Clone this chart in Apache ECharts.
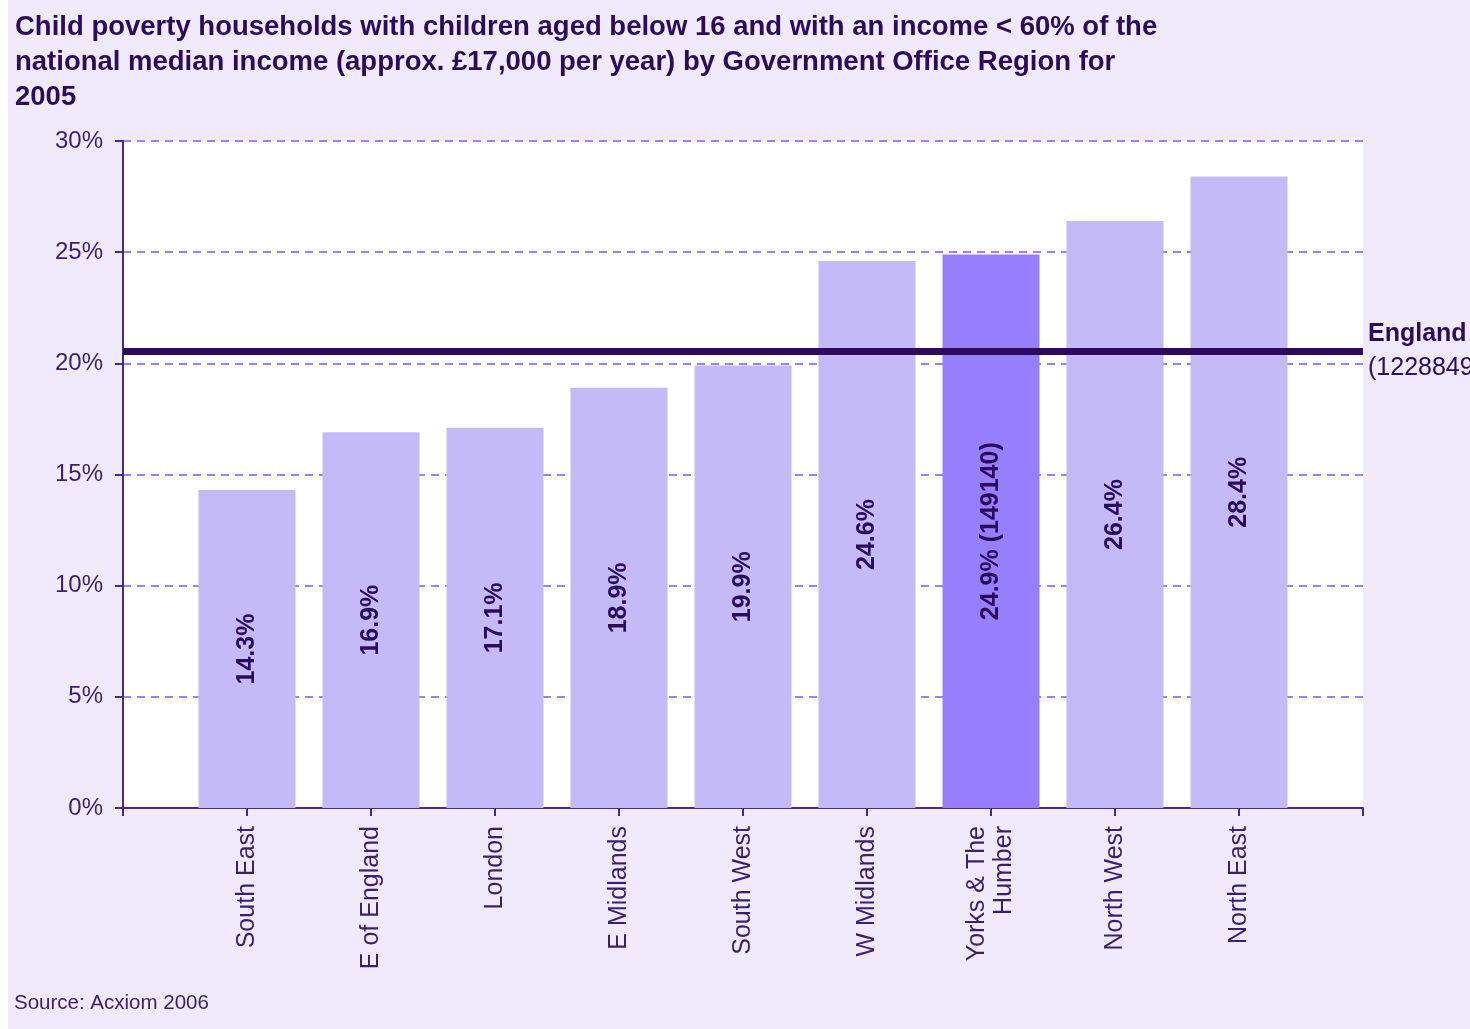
<!DOCTYPE html>
<html>
<head>
<meta charset="utf-8">
<script src="https://cdn.jsdelivr.net/npm/echarts@6/dist/echarts.min.js"></script>
<style>
  html, body { margin: 0; padding: 0; background: #fff; }
  #chart { position: absolute; left: 8px; top: 0; width: 1462px; height: 1029px; }
</style>
</head>
<body>
<div id="chart"></div>
<script>
// blank slots at each end so bars sit on points like the original axis
const regions = ['', 'South East', 'E of England', 'London', 'E Midlands', 'South West',
  'W Midlands', 'Yorks & The\nHumber', 'North West', 'North East', '']
const poverty = ['-', 14.3, 16.9, 17.1, 18.9, 19.9, 24.6, 24.9, 26.4, 28.4, '-']
const barLabels = ['', '14.3%', '16.9%', '17.1%', '18.9%', '19.9%', '24.6%', '24.9% (149140)', '26.4%', '28.4%', '']
const highlight = 'Yorks & The\nHumber'
const englandValue = 20.55
const englandName = 'England'
const englandCount = '(1228849)'
const yTicks = [0, 5, 10, 15, 20, 25, 30]

const textColor = '#2b0b5c'
const font = 'Liberation Sans, Arial, sans-serif'

const chart = echarts.init(document.getElementById('chart'))

const option = {
  backgroundColor: '#f1eafd',
  animation: false,
  textStyle: { fontFamily: font },
  title: [{
    text: 'Child poverty households with children aged below 16 and with an income < 60% of the\nnational median income (approx. £17,000 per year) by Government Office Region for\n2005',
    left: 2,
    top: 5,
    textStyle: { color: textColor, fontSize: 27.5, fontWeight: 'bold', lineHeight: 35, fontFamily: font }
  }, {
    text: 'Source: Acxiom 2006',
    left: 1,
    top: 988,
    textStyle: { color: '#3a1f6b', fontSize: 20.5, fontWeight: 'normal', fontFamily: font }
  }],
  grid: {
    left: 115,
    right: 107,
    top: 141,
    bottom: 221,
    show: true,
    backgroundColor: '#ffffff',
    borderWidth: 0
  },
  xAxis: {
    type: 'category',
    boundaryGap: false,
    data: regions,
    axisLine: { lineStyle: { color: '#4b2a82', width: 2 } },
    axisTick: { show: true, length: 8, interval: 0, lineStyle: { color: '#4b2a82', width: 2 } },
    axisLabel: {
      interval: 0,
      rotate: 90,
      margin: 18,
      color: '#3a1f6b',
      fontSize: 25,
      lineHeight: 27,
      fontFamily: font
    },
    splitLine: { show: false }
  },
  yAxis: {
    type: 'value',
    min: yTicks[0],
    max: yTicks[yTicks.length - 1],
    interval: 5,
    axisLine: { show: true, lineStyle: { color: '#4b2a82', width: 2 } },
    axisTick: { show: true, length: 8, lineStyle: { color: '#4b2a82', width: 2 } },
    axisLabel: {
      margin: 20,
      color: '#3a1f6b',
      fontSize: 24,
      fontFamily: font,
      formatter: v => v + '%'
    },
    splitLine: { show: true, lineStyle: { color: '#9985f8', type: [8, 6], width: 2 } }
  },
  series: [{
    type: 'bar',
    barWidth: 97,
    data: poverty.map((v, i) => ({
      value: v,
      itemStyle: { color: regions[i] === highlight ? '#957fff' : '#c5baf8' }
    })),
    label: {
      show: true,
      position: 'inside',
      rotate: 90,
      color: textColor,
      fontSize: 25,
      fontWeight: 'bold',
      fontFamily: font,
      formatter: p => barLabels[p.dataIndex]
    },
    markLine: {
      silent: true,
      symbol: 'none',
      data: [{ yAxis: englandValue }],
      lineStyle: { color: '#2d0a5e', width: 7, type: 'solid' },
      label: {
        show: true,
        position: 'end',
        distance: 5,
        formatter: () => '{a|' + englandName + '}\n{b|' + englandCount + '}',
        rich: {
          a: { color: textColor, fontSize: 25, fontWeight: 'bold', lineHeight: 34, fontFamily: font },
          b: { color: textColor, fontSize: 25, fontWeight: 'normal', lineHeight: 34, fontFamily: font }
        }
      }
    }
  }]
}

chart.setOption(option)
</script>
</body>
</html>
